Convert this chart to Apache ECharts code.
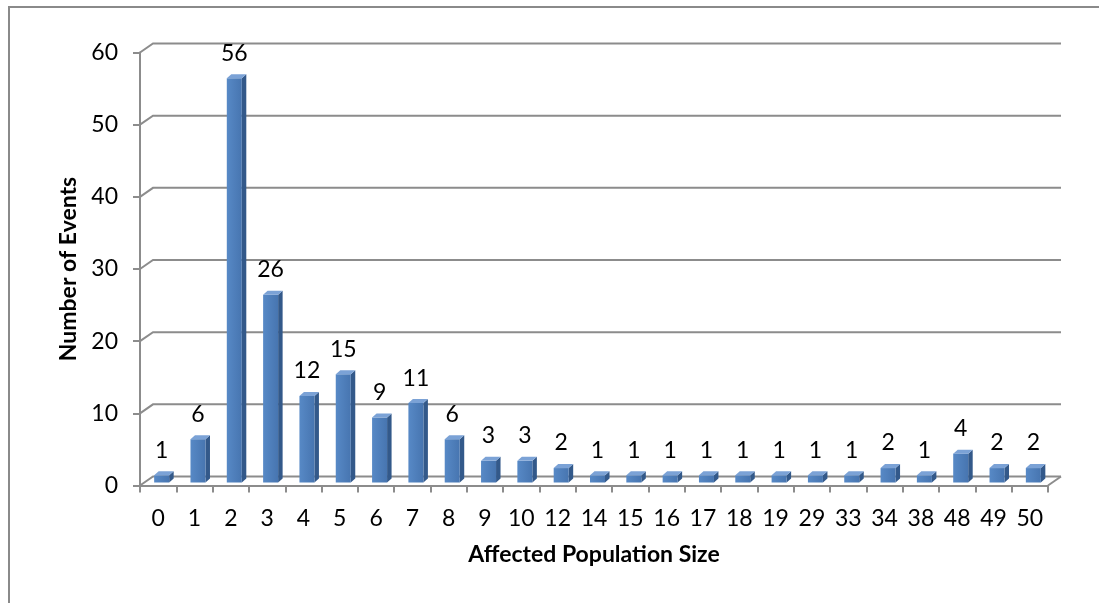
<!DOCTYPE html>
<html>
<head>
<meta charset="utf-8">
<script src="https://cdn.jsdelivr.net/npm/echarts@6/dist/echarts.min.js"></script>
<style>
  html, body { margin: 0; padding: 0; background: #ffffff; }
  #frame { position: absolute; left: 8px; top: 6px; width: 1200px; height: 700px;
           border-left: 2px solid #8a8a8a; border-top: 2px solid #8a8a8a; box-sizing: border-box; }
  #chart { position: absolute; left: 0; top: 0; width: 1099px; height: 603px; }
</style>
</head>
<body>
<div id="frame"></div>
<div id="chart"></div>
<script>
// Affected population size (category) and number of events per size
const sizes = ['0', '1', '2', '3', '4', '5', '6', '7', '8', '9', '10', '12', '14', '15', '16',
               '17', '18', '19', '29', '33', '34', '38', '48', '49', '50'];
const events = [1, 6, 56, 26, 12, 15, 9, 11, 6, 3, 3, 2, 1, 1, 1, 1, 1, 1, 1, 1, 2, 1, 4, 2, 2];
const yTicks = [0, 10, 20, 30, 40, 50, 60];

// 3D look: offset of the back wall and of the bars' depth, in pixels
const WALL_DX = 13, WALL_DY = -9;
const BAR_DX = 3.5, BAR_DY = -3, BAR_HALF = 7.5, DEPTH_DX = 4.5, DEPTH_DY = -4;

const gridColor = '#8c8c8c';
const font = 'Lato, "Liberation Sans", sans-serif';
const FS = 23;

const chart = echarts.init(document.getElementById('chart'), null, { renderer: 'canvas' });

chart.setOption({
  animation: false,
  backgroundColor: 'transparent',
  grid: { left: 140, top: 52.5, width: 908, height: 433 },
  xAxis: [
    {
      type: 'category',
      data: sizes,
      axisLine: { show: true, lineStyle: { color: gridColor, width: 2 } },
      axisTick: { show: true, length: 7, lineStyle: { color: gridColor, width: 2 } },
      axisLabel: { color: '#000', fontFamily: font, fontSize: FS, margin: 22 },
      name: 'Affected Population Size',
      nameLocation: 'middle',
      nameGap: 58,
      nameTextStyle: { color: '#000', fontFamily: font, fontSize: FS, fontWeight: 'bold' }
    },
    { type: 'value', min: 0, max: 1, show: false }
  ],
  yAxis: {
    type: 'value',
    min: 0, max: 60, interval: 10,
    axisLine: { show: true, lineStyle: { color: gridColor, width: 2 } },
    axisTick: { show: true, length: 7, lineStyle: { color: gridColor, width: 2 } },
    splitLine: { show: false },
    axisLabel: { color: '#000', fontFamily: font, fontSize: FS, margin: 22 },
    name: 'Number of Events',
    nameLocation: 'middle',
    nameGap: 58,
    nameTextStyle: { color: '#000', fontFamily: font, fontSize: FS, fontWeight: 'bold' }
  },
  series: [
    {
      // back wall gridlines with their diagonal links to the front axis, plus the floor edge
      type: 'custom',
      xAxisIndex: 1,
      yAxisIndex: 0,
      silent: true,
      data: yTicks.map(v => [0, v]),
      renderItem: function (params, api) {
        const v = api.value(1);
        const l = api.coord([0, v]);
        const r = api.coord([1, v]);
        const style = { stroke: gridColor, lineWidth: 2, fill: null };
        const children = [{
          type: 'polyline',
          shape: { points: [[l[0], l[1]], [l[0] + WALL_DX, l[1] + WALL_DY], [r[0] + WALL_DX, r[1] + WALL_DY]] },
          style: style
        }];
        if (v === 0) {
          children.push({
            type: 'line',
            shape: { x1: r[0], y1: r[1], x2: r[0] + WALL_DX, y2: r[1] + WALL_DY },
            style: style
          });
        }
        return { type: 'group', children: children };
      },
      z: 1
    },
    {
      // columns drawn as prisms: front face, side face and top face
      type: 'custom',
      xAxisIndex: 0,
      yAxisIndex: 0,
      data: events.map((v, i) => [i, v]),
      renderItem: function (params, api) {
        const i = api.value(0), v = api.value(1);
        const top = api.coord([i, v]);
        const base = api.coord([i, 0]);
        const cx = top[0] + BAR_DX;
        const xl = cx - BAR_HALF, xr = cx + BAR_HALF;
        const yt = top[1] + BAR_DY, yb = base[1] + BAR_DY;
        return {
          type: 'group',
          children: [
            {
              type: 'polygon',
              shape: { points: [[xr, yt], [xr + DEPTH_DX, yt + DEPTH_DY], [xr + DEPTH_DX, yb + DEPTH_DY], [xr, yb]] },
              style: { fill: '#33598a' }
            },
            {
              type: 'rect',
              shape: { x: xl, y: yt, width: xr - xl, height: yb - yt },
              style: {
                fill: new echarts.graphic.LinearGradient(0, 0, 1, 0, [
                  { offset: 0, color: '#5789c6' },
                  { offset: 1, color: '#4775b0' }
                ])
              }
            },
            {
              type: 'polygon',
              shape: { points: [[xl, yt], [xl + DEPTH_DX, yt + DEPTH_DY], [xr + DEPTH_DX, yt + DEPTH_DY], [xr, yt]] },
              style: { fill: '#7ba2d6' }
            },
            {
              type: 'text',
              style: {
                x: cx, y: yt - 25,
                text: String(v),
                fill: '#000',
                font: FS + 'px ' + font,
                align: 'center',
                verticalAlign: 'middle'
              }
            }
          ]
        };
      },
      z: 2
    }
  ]
});
</script>
</body>
</html>
